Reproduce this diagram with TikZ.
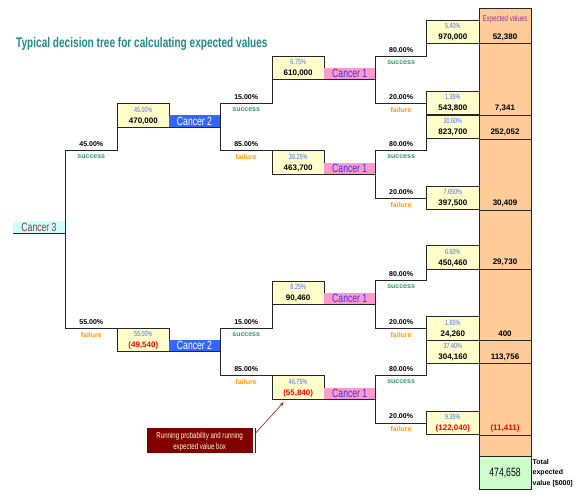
\documentclass[tikz,border=0pt]{standalone}
\usepackage{fontspec}
\setmainfont{Liberation Sans}
\newfontfamily\nar[FakeStretch=0.72]{Liberation Sans}
\usetikzlibrary{arrows.meta}
\definecolor{yel}{HTML}{FFFFCC}
\definecolor{pctblue}{HTML}{4A6CF0}
\definecolor{succgreen}{HTML}{339966}
\definecolor{failorange}{HTML}{FF9900}
\definecolor{pinkc}{HTML}{FF99CC}
\definecolor{cItext}{HTML}{3333FF}
\definecolor{blueb}{HTML}{3366FF}
\definecolor{cyanc}{HTML}{CCFFFF}
\definecolor{cIIIred}{HTML}{993333}
\definecolor{orangec}{HTML}{FFCC99}
\definecolor{greenc}{HTML}{CCFFCC}
\definecolor{purp}{HTML}{993399}
\definecolor{redv}{HTML}{FF0000}
\definecolor{anncol}{HTML}{800000}
\definecolor{cream}{HTML}{FFFFCC}
\definecolor{arrcol}{HTML}{993333}
\definecolor{ttl}{HTML}{238B8B}
\newcommand\myfs[1]{\fontsize{#1}{#1}\selectfont}
\tikzset{
 ybox/.style={draw=black!85, line width=0.7pt, fill=yel, minimum height=23.4pt, inner sep=0pt, outer sep=0pt, anchor=north west},
 pct/.style={font=\nar\myfs{7.5}, text=pctblue, inner sep=0pt},
 val/.style={font=\bfseries\myfs{8}, inner sep=0pt},
 conn/.style={draw=black!85, line width=0.8pt},
 bp/.style={font=\bfseries\myfs{7}, inner sep=0pt},
 succ/.style={bp, text=succgreen},
 fail/.style={bp, text=failorange},
 cIbox/.style={fill=pinkc, minimum width=51.5pt, minimum height=11.6pt, inner sep=0pt, outer sep=0pt, anchor=south west, font=\nar\myfs{12}, text=cItext},
 cIIbox/.style={fill=blueb, minimum width=51pt, minimum height=11.7pt, inner sep=0pt, outer sep=0pt, anchor=south west, font=\nar\myfs{12}, text=white},
 cIIIbox/.style={fill=cyanc, minimum width=52pt, minimum height=12.3pt, inner sep=0pt, outer sep=0pt, anchor=south west, font=\nar\myfs{12}, text=cIIIred},
 evtext/.style={font=\bfseries\myfs{8}, inner sep=0pt},
}
\newcommand\ybx[6]{%
 \node[ybox, minimum width=#4pt] (#1) at (#2,#3) {};
 \node[pct] (#1p) at ([yshift=-5.9pt]#1.north) {#5};
 \node[val] (#1v) at ([yshift=-17.4pt]#1.north) {#6};}
\begin{document}
\begin{tikzpicture}[x=1pt,y=-1pt]
\useasboundingbox[fill=white] (0,0) rectangle (580,500);

% title
\node[font=\nar\bfseries\myfs{14}, text=ttl, anchor=base west, inner sep=0pt] (title) at (16,48) {Typical decision tree for calculating expected values};

% expected values column
\node[draw=black!85, line width=0.7pt, fill=orangec, anchor=north west, minimum width=52pt, minimum height=448.4pt, inner sep=0pt, outer sep=0pt] (ev) at (479,8.3) {};
\node[draw=black!85, line width=0.7pt, fill=greenc, anchor=north west, minimum width=52pt, minimum height=32.6pt, inner sep=0pt, outer sep=0pt, font=\nar\myfs{12}] (tot) at (479,456.7) {474,658};
\foreach \yy in {43.3,115,139,210,269.3,340,363.3,435} \draw[conn] (479,\yy) -- (531,\yy);
\node[font=\nar\myfs{8.5}, text=purp, inner sep=0pt] (evh) at (505,19.3) {Expected values};
\node[evtext] (e1) at (505,37.7) {52,380};
\node[evtext] (e2) at (505,108.5) {7,341};
\node[evtext] (e3) at (505,132.4) {252,052};
\node[evtext] (e4) at (505,203.4) {30,409};
\node[evtext] (e5) at (505,262.7) {29,730};
\node[evtext] (e6) at (505,333.4) {400};
\node[evtext] (e7) at (505,356.9) {113,756};
\node[evtext, text=redv] (e8) at (505,428.6) {(11,411)};

\node[bp, anchor=base west] (t1) at (532.5,464.3) {Total};
\node[bp, anchor=base west] (t2) at (532.5,474.8) {expected};
\node[bp, anchor=base west] (t3) at (532.5,485.3) {value [\$000]};

% right column boxes
\ybx{b1}{426.7}{20}{52.3}{5.40\%}{970,000}
\ybx{b2}{426.7}{91.3}{52.3}{1.35\%}{543,800}
\ybx{b3}{426.7}{115}{52.3}{30.60\%}{823,700}
\ybx{b4}{426.7}{186.3}{52.3}{7.650\%}{397,500}
\ybx{b5}{426.7}{245.7}{52.3}{6.60\%}{450,460}
\ybx{b6}{426.7}{316.7}{52.3}{1.65\%}{24,260}
\ybx{b7}{426.7}{340}{52.3}{37.40\%}{304,160}
\ybx{b8}{426.7}{411.3}{52.3}{9.35\%}{\textcolor{redv}{(122,040)}}

% middle boxes
\ybx{bA}{272.3}{55.9}{51.7}{6.75\%}{610,000}
\ybx{bB}{272.3}{150.7}{51.7}{38.25\%}{463,700}
\ybx{bC}{272.3}{280.9}{51.7}{8.25\%}{90,460}
\ybx{bD}{272.3}{375.7}{51.7}{46.75\%}{\textcolor{redv}{(55,840)}}

% left boxes
\ybx{bE}{117.7}{103.6}{51.3}{45.00\%}{470,000}
\ybx{bF}{117.7}{328.3}{51.3}{55.00\%}{\textcolor{redv}{(49,540)}}

% cancer nodes
\node[cIIIbox] (c3) at (13,233.3) {Cancer 3};
\node[cIIbox] (c2a) at (169,127) {Cancer 2};
\node[cIIbox] (c2b) at (169,351.7) {Cancer 2};
\node[cIbox] (c1a) at (324,79.3) {Cancer 1};
\node[cIbox] (c1b) at (324,174.1) {Cancer 1};
\node[cIbox] (c1c) at (324,304.3) {Cancer 1};
\node[cIbox] (c1d) at (324,399.1) {Cancer 1};
\foreach \n in {c3,c2a,c2b,c1a,c1b,c1c,c1d} \draw[conn] (\n.south west) -- (\n.south east);

% branch corner coordinates
\coordinate (sE) at (117.7,150.7);
\coordinate (sA) at (272.3,103.3);
\coordinate (sC) at (272.3,328.3);
\coordinate (s1) at (426.7,56);
\coordinate (s3) at (426.7,150.7);
\coordinate (s5) at (426.7,280.7);
\coordinate (s7) at (426.7,375.7);

% connectors
\draw[conn] (c3.south east) |- (sE) -- (bE.south west);
\draw[conn] (c3.south east) |- (bF.north west);
\draw[conn] (c2a.south east) |- (sA) -- (bA.south west);
\draw[conn] (c2a.south east) |- (bB.north west);
\draw[conn] (c2b.south east) |- (sC) -- (bC.south west);
\draw[conn] (c2b.south east) |- (bD.north west);
\draw[conn] (c1a.south east) |- (s1) -- (b1.south west);
\draw[conn] (c1a.south east) |- (b2.west);
\draw[conn] (c1b.south east) |- (s3) -- (b3.south west);
\draw[conn] (c1b.south east) |- (b4.west);
\draw[conn] (c1c.south east) |- (s5) -- (b5.south west);
\draw[conn] (c1c.south east) |- (b6.west);
\draw[conn] (c1d.south east) |- (s7) -- (b7.south west);
\draw[conn] (c1d.south east) |- (b8.west);

% branch labels
\node[bp] (lE) at (91.3,144.5) {45.00\%};   \node[succ] (lEs) at (91.3,156.9) {success};
\node[bp] (lF) at (91.3,322.1) {55.00\%};   \node[fail] (lFf) at (91.3,334.5) {failure};
\node[bp] (lA) at (246.2,97.1) {15.00\%};   \node[succ] (lAs) at (246.2,109.5) {success};
\node[bp] (lB) at (246.2,144.5) {85.00\%};  \node[fail] (lBf) at (246.2,156.9) {failure};
\node[bp] (lC) at (246.2,322.1) {15.00\%};  \node[succ] (lCs) at (246.2,334.5) {success};
\node[bp] (lD) at (246.2,369.5) {85.00\%};  \node[fail] (lDf) at (246.2,381.9) {failure};
\node[bp] (l1) at (401.1,49.8) {80.00\%};   \node[succ] (l1s) at (401.1,62.2) {success};
\node[bp] (l2) at (401.1,97.1) {20.00\%};   \node[fail] (l2f) at (401.1,109.5) {failure};
\node[bp] (l3) at (401.1,144.5) {80.00\%};  \node[succ] (l3s) at (401.1,156.9) {success};
\node[bp] (l4) at (401.1,192.1) {20.00\%};  \node[fail] (l4f) at (401.1,204.5) {failure};
\node[bp] (l5) at (401.1,274.5) {80.00\%};  \node[succ] (l5s) at (401.1,286.9) {success};
\node[bp] (l6) at (401.1,322.1) {20.00\%};  \node[fail] (l6f) at (401.1,334.5) {failure};
\node[bp] (l7) at (401.1,369.5) {80.00\%};  \node[succ] (l7s) at (401.1,381.9) {success};
\node[bp] (l8) at (401.1,416.5) {20.00\%};  \node[fail] (l8f) at (401.1,428.9) {failure};

% annotation
\node[fill=anncol, anchor=north west, minimum width=106pt, minimum height=25pt, inner sep=0pt, outer sep=0pt] (ann) at (146.7,428.3) {};
\node[font=\nar\myfs{8.5}, text=cream, inner sep=0pt] (ann1) at (199.7,436) {Running probability and running};
\node[font=\nar\myfs{8.5}, text=cream, inner sep=0pt] (ann2) at (199.7,447.3) {expected value box};
\draw[anncol, line width=0.8pt] ([xshift=2.5pt]ann.north east) -- ([xshift=2.5pt]ann.south east);
\draw[arrcol, line width=0.7pt, -{Stealth[length=4.5pt,width=3.5pt]}] ([xshift=3pt,yshift=-4.7pt]ann.north east) -- ([xshift=11.4pt,yshift=-3pt]bD.south west);
\end{tikzpicture}
\end{document}
